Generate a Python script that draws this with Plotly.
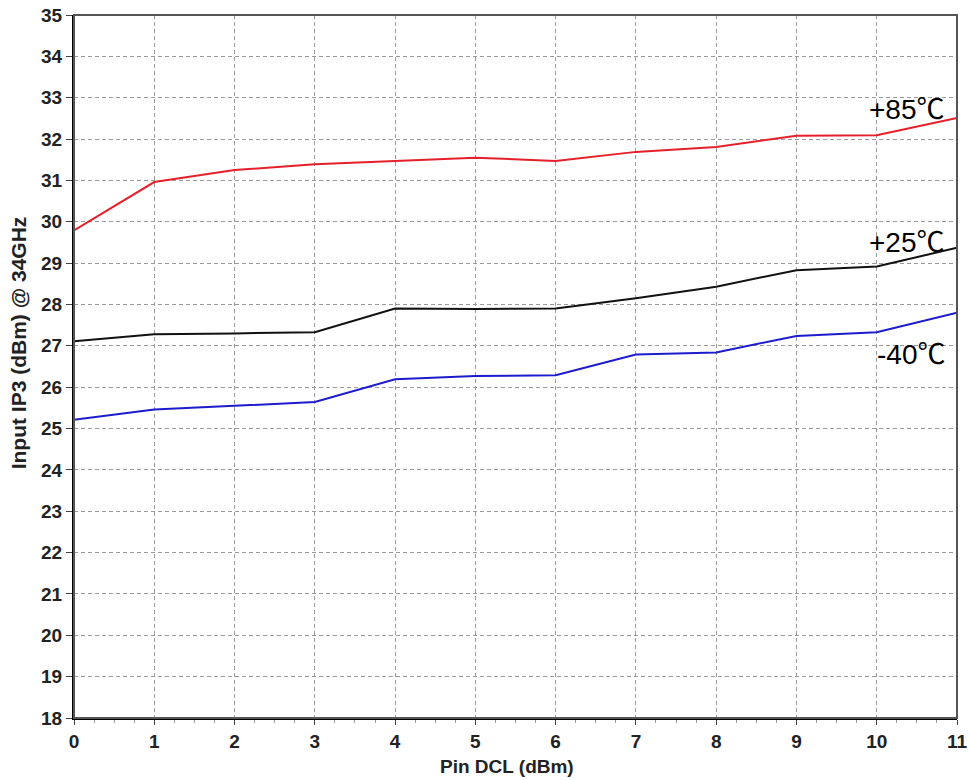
import plotly.graph_objects as go

pin_dcl = [0, 1, 2, 3, 4, 5, 6, 7, 8, 9, 10, 11]
ip3_p85 = [29.79, 30.96, 31.25, 31.39, 31.47, 31.55, 31.47, 31.69, 31.81, 32.08, 32.09, 32.51]
ip3_p25 = [27.11, 27.28, 27.30, 27.33, 27.90, 27.89, 27.90, 28.15, 28.43, 28.83, 28.92, 29.37]
ip3_m40 = [25.21, 25.46, 25.55, 25.64, 26.19, 26.27, 26.29, 26.79, 26.84, 27.24, 27.33, 27.80]

series_names = ["+85", "+25", "-40"]
series_vals = [ip3_p85, ip3_p25, ip3_m40]
series_colors = ["#e5202a", "#111111", "#1c1ccc"]
label_y = [32.78, 29.55, 26.84]

x_ticks = list(range(0, 12))
y_ticks = list(range(18, 36))

FAM = "Liberation Sans, Arial, Noto Sans CJK SC"

fig = go.Figure()
for name, vals, col in zip(series_names, series_vals, series_colors):
    fig.add_trace(go.Scatter(x=pin_dcl, y=vals, mode="lines", name=name + "℃",
                             line=dict(color=col, width=2)))

for name, ly in zip(series_names, label_y):
    fig.add_annotation(x=10.88, y=ly,
                       text=name + "<span style='font-family:Noto Sans CJK SC'>℃</span>",
                       showarrow=False, xanchor="right",
                       yanchor="middle", font=dict(family=FAM, size=28, color="black"))

font_ticks = dict(family=FAM, size=19, color="#222", weight="bold")

fig.update_xaxes(range=[0, 11], tickvals=x_ticks, ticktext=[str(v) for v in x_ticks],
                 showgrid=True, gridcolor="#9a9a9a", griddash="4px,3px", gridwidth=1,
                 showline=True, linecolor="black", linewidth=2,
                 ticks="outside", ticklen=5, tickcolor="#444",
                 minor=dict(dtick=0.25, ticks="outside", ticklen=3, tickcolor="#999", showgrid=False),
                 tickfont=font_ticks, zeroline=False, automargin=False)
fig.update_yaxes(range=[18, 35], tickvals=y_ticks, ticktext=[str(v) for v in y_ticks],
                 showgrid=True, gridcolor="#9a9a9a", griddash="4px,3px", gridwidth=1,
                 showline=True, linecolor="black", linewidth=2,
                 ticks="outside", ticklen=6, tickcolor="#444",
                 tickfont=font_ticks, zeroline=False, automargin=False)

fig.add_annotation(text="Input IP3 (dBm) @ 34GHz", xref="paper", yref="paper",
                   x=-0.0634, y=0.533, textangle=-90, showarrow=False,
                   xanchor="center", yanchor="middle",
                   font=dict(family=FAM, size=21, color="#222", weight="bold"))
fig.add_annotation(text="Pin DCL (dBm)", xref="paper", yref="paper",
                   x=0.49, y=-0.0697, showarrow=False,
                   xanchor="center", yanchor="middle",
                   font=dict(family=FAM, size=19, color="#222", weight="bold"))

fig.add_shape(type="rect", xref="paper", yref="paper", x0=0, y0=0, x1=1, y1=1,
              line=dict(color="#555", width=2), layer="above")

fig.update_layout(width=970, height=780, plot_bgcolor="white", paper_bgcolor="white",
                  showlegend=False, margin=dict(l=74, r=13, t=15, b=62, autoexpand=False))

fig.write_html("out.html", config={"displayModeBar": False},
               post_script="document.body.style.margin='0';document.body.style.overflow='hidden';")
